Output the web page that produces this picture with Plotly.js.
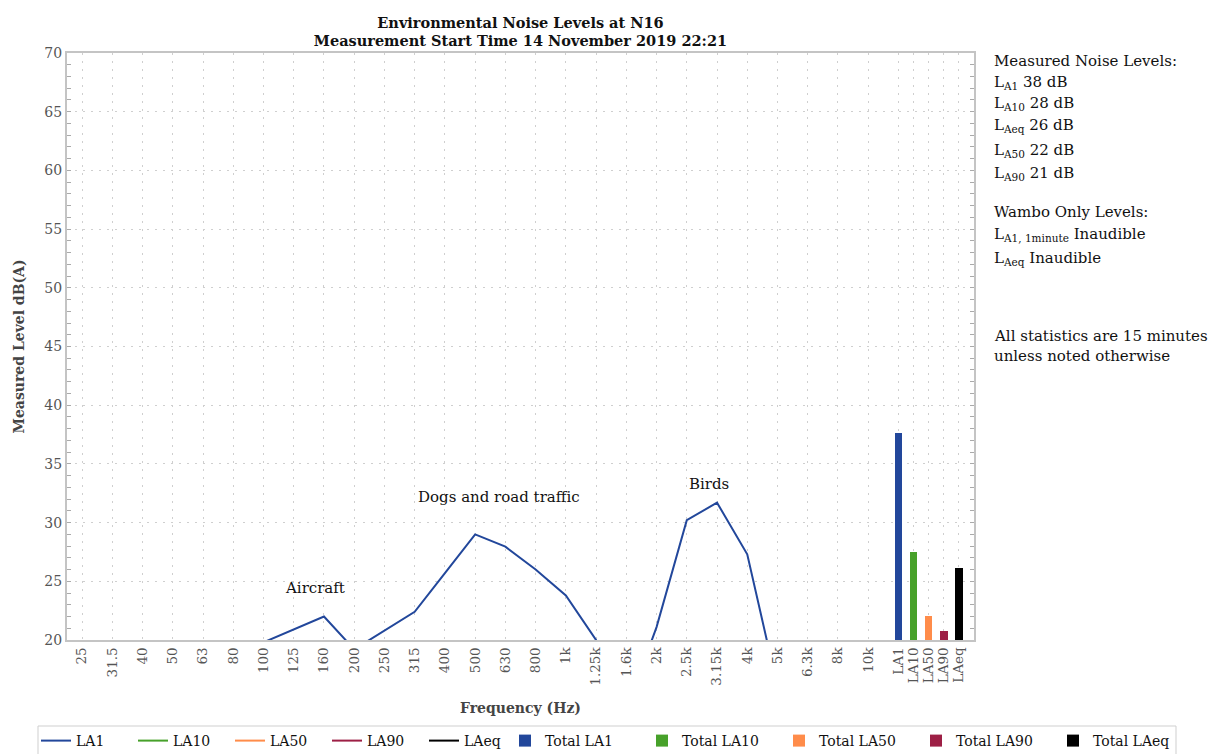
<!DOCTYPE html>
<html>
<head>
<meta charset="utf-8">
<script src="https://cdn.plot.ly/plotly-3.0.1.min.js"></script>
<style>html,body{margin:0;padding:0;background:#fff;}#chart{width:1218px;height:754px;}</style>
</head>
<body>
<div id="chart"></div>
<script>
// ---- data ----
var freqCats = ['25','31.5','40','50','63','80','100','125','160','200','250','315','400','500','630','800','1k','1.25k','1.6k','2k','2.5k','3.15k','4k','5k','6.3k','8k','10k'];
var la1  = [15.0, 14.5, 14.0, 15.0, 16.0, 17.0, 19.8, 20.9, 22.0, 19.2, 20.8, 22.4, 25.7, 29.0, 27.95, 26.0, 23.8, 20.0, 14.0, 21.1, 30.2, 31.7, 27.3, 16.0, 13.0, 12.0, 11.0];
var la10 = [12.0, 11.5, 11.0, 12.0, 13.0, 14.0, 15.5, 16.5, 17.5, 16.0, 16.5, 17.0, 18.0, 18.5, 18.0, 17.5, 16.5, 15.0, 12.5, 16.0, 18.5, 19.0, 17.5, 12.5, 10.5, 10.0, 9.5];
var la50 = [10.0, 9.5, 9.0, 10.0, 11.0, 11.5, 12.5, 13.0, 13.5, 13.0, 13.0, 13.5, 14.0, 14.5, 14.0, 13.5, 13.0, 12.0, 10.5, 12.5, 14.0, 14.5, 13.0, 10.5, 9.0, 8.5, 8.0];
var la90 = [9.0, 8.5, 8.0, 9.0, 10.0, 10.5, 11.5, 12.0, 12.5, 12.0, 12.0, 12.5, 13.0, 13.5, 13.0, 12.5, 12.0, 11.0, 9.5, 11.5, 13.0, 13.5, 12.0, 9.5, 8.0, 7.5, 7.0];
var laeq = [11.0, 10.5, 10.0, 11.0, 12.0, 13.0, 14.5, 15.5, 16.5, 15.0, 15.5, 16.0, 17.0, 17.5, 17.0, 16.5, 15.5, 14.0, 11.5, 15.0, 17.5, 18.0, 16.5, 11.5, 9.5, 9.0, 8.5];
var totalCats = ['LA1','LA10','LA50','LA90','LAeq'];
var totalVals = [37.6, 27.5, 22.05, 20.75, 26.1];
var measuredNames = ['A1','A10','Aeq','A50','A90'];
var measuredLevels = [38, 28, 26, 22, 21];

// ---- styling ----
var seriesColors = ['#22479b', '#47a12a', '#ff8c4a', '#9d1f45', '#000000'];
var FONT = 'DejaVu Serif';

var freqPos = freqCats.map(function(_, i){ return i; });
var totalPos = totalCats.map(function(_, j){ return freqCats.length + 0.5 * j; });

var lineSeries = [la1, la10, la50, la90, laeq];
var traces = [];
totalCats.forEach(function(name, k){
  traces.push({
    type: 'scatter', mode: 'lines', name: name,
    x: freqPos, y: lineSeries[k],
    line: {color: seriesColors[k], width: 2},
    legend: 'legend'
  });
});
totalCats.forEach(function(name, k){
  traces.push({
    type: 'bar', name: 'Total ' + name,
    x: [totalPos[k]], y: [totalVals[k]],
    width: 0.25,
    marker: {color: seriesColors[k], line: {width: 0}},
    legend: 'legend2'
  });
});

var L = 67, R = 974, T = 53, B = 640, W = 1218, H = 754;
function px(x){ return (x - L) / (R - L); }
function py(y){ return (B - y) / (B - T); }

var anns = [
  {text: 'Aircraft', x: 7.7, y: 24.45, xref: 'x', yref: 'y'},
  {text: 'Dogs and road traffic', x: 13.8, y: 32.2, xref: 'x', yref: 'y'},
  {text: 'Birds', x: 20.75, y: 33.3, xref: 'x', yref: 'y'}
].map(function(a){
  a.showarrow = false; a.xanchor = 'center'; a.yanchor = 'middle';
  a.font = {family: FONT, size: 15, color: '#111'};
  return a;
});

var sideLines = [['Measured Noise Levels:', 61]];
var measuredY = [82, 104, 126, 150, 173];
measuredNames.forEach(function(n, i){
  sideLines.push(['L<sub>' + n + '</sub> ' + measuredLevels[i] + ' dB', measuredY[i]]);
});
sideLines.push(['Wambo Only Levels:', 212]);
sideLines.push(['L<sub>A1, 1minute</sub> Inaudible', 234]);
sideLines.push(['L<sub>Aeq</sub> Inaudible', 258]);
sideLines.push(['All statistics are 15 minutes', 336]);
sideLines.push(['unless noted otherwise', 356]);
sideLines.forEach(function(s){
  anns.push({text: s[0], xref: 'paper', yref: 'paper', x: px(992), y: py(s[1]),
    xanchor: 'left', yanchor: 'middle', showarrow: false,
    font: {family: FONT, size: 15, color: '#111'}});
});

var legendCommon = {
  orientation: 'h', xref: 'container', yref: 'container',
  yanchor: 'top', xanchor: 'left', y: 1 - 725 / H,
  borderwidth: 0, bgcolor: 'rgba(0,0,0,0)',
  font: {family: FONT, size: 14, color: '#111'},
  traceorder: 'normal', entrywidthmode: 'pixels'
};
var legend1 = Object.assign({}, legendCommon, {x: 36 / W, entrywidth: 52});
var legend2 = Object.assign({}, legendCommon, {x: 505 / W, entrywidth: 92});

var layout = {
  width: W, height: H,
  margin: {l: L, r: W - R, t: T, b: H - B, pad: 0},
  paper_bgcolor: '#fff', plot_bgcolor: '#fff',
  font: {family: FONT, color: '#555'},
  title: {
    text: '<b>Environmental Noise Levels at N16<br>Measurement Start Time 14 November 2019 22:21</b>',
    font: {family: FONT, size: 14.5, color: '#111'},
    x: px(520.5), xref: 'paper', xanchor: 'center',
    y: 1 - 27.5 / H, yref: 'container', yanchor: 'middle'
  },
  xaxis: {
    type: 'linear', range: [-0.5, 29.5], automargin: false,
    tickmode: 'array', tickvals: freqPos.concat(totalPos), ticktext: freqCats.concat(totalCats),
    tickangle: -90, tickfont: {family: FONT, size: 13.5, color: '#555'},
    showgrid: true, gridcolor: '#cfcfcf', griddash: '2px,6px', gridwidth: 1,
    showline: true, linecolor: '#c4c4c4', linewidth: 2, mirror: true,
    ticks: '', zeroline: false,
    title: {text: '<b>Frequency (Hz)</b>', font: {family: FONT, size: 14, color: '#444'}, standoff: 19}
  },
  yaxis: {
    range: [20, 70], dtick: 5, tick0: 0, automargin: false,
    tickfont: {family: FONT, size: 14, color: '#555'},
    showgrid: true, gridcolor: '#cfcfcf', griddash: '2px,6px', gridwidth: 1,
    showline: true, linecolor: '#c4c4c4', linewidth: 2, mirror: 'allticks',
    ticks: 'inside', ticklen: 4, tickcolor: '#aaa', zeroline: false,
    minor: {dtick: 1, ticks: 'inside', ticklen: 4, tickcolor: '#aaa', showgrid: false},
    title: {text: '<b>Measured Level dB(A)</b>', font: {family: FONT, size: 14, color: '#444'}, standoff: 16}
  },
  bargap: 0,
  showlegend: true,
  legend: legend1,
  legend2: legend2,
  shapes: [{
    type: 'rect', xref: 'paper', yref: 'paper',
    x0: px(38), x1: px(1176), y0: py(726), y1: py(775),
    line: {color: '#cfcfcf', width: 1}, fillcolor: 'rgba(0,0,0,0)', layer: 'below'
  }],
  annotations: anns
};

Plotly.newPlot('chart', traces, layout, {displayModeBar: false, staticPlot: true});
</script>
</body>
</html>
